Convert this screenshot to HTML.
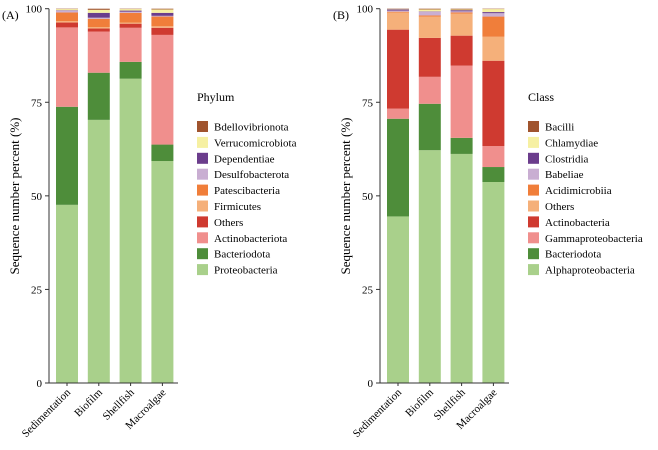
<!DOCTYPE html>
<html><head><meta charset="utf-8"><style>
body{margin:0;background:#fff}
svg{font-family:"Liberation Serif",serif}
</style></head><body>
<svg id="c" width="658" height="445"></svg>
<script>
const categories=["Sedimentation","Biofilm","Shellfish","Macroalgae"];
const phylumNames=["Proteobacteria","Bacteriodota","Actinobacteriota","Others","Firmicutes","Patescibacteria","Desulfobacterota","Dependentiae","Verrucomicrobiota","Bdellovibrionota"];
const phylumValues=[
 [47.6,70.3,81.3,59.3],
 [26.2,12.6,4.5,4.4],
 [21.2,11.0,9.1,29.3],
 [1.3,0.8,1.1,1.9],
 [0.4,0.4,0.3,0.4],
 [2.3,2.2,2.6,2.6],
 [0.5,0.3,0.3,0.2],
 [0.1,1.3,0.3,0.8],
 [0.3,0.8,0.4,0.9],
 [0.1,0.3,0.1,0.2]];
const classNames=["Alphaproteobacteria","Bacteriodota","Gammaproteobacteria","Actinobacteria","Others","Acidimicrobiia","Babeliae","Clostridia","Chlamydiae","Bacilli"];
const classValues=[
 [44.5,62.2,61.2,53.7],
 [26.1,12.4,4.3,4.0],
 [2.7,7.2,19.3,5.6],
 [21.1,10.4,8.0,22.8],
 [4.6,5.7,5.9,6.4],
 [0.2,0.3,0.3,5.4],
 [0.3,1.0,0.3,0.9],
 [0.3,0.1,0.3,0.3],
 [0.1,0.5,0.2,0.8],
 [0.1,0.2,0.2,0.1]];
const yTicks=[0,25,50,75,100];
const colors=["#a9d08b","#4e8d3a","#f08f8d","#cf3a30","#f5b07a","#f07e3a","#c9aed2","#6b3d8c","#f6f0a2","#a0542e"];
const NS="http://www.w3.org/2000/svg";
const svg=document.getElementById("c");
function el(t,a,p){const e=document.createElementNS(NS,t);for(const k in a)e.setAttribute(k,a[k]);(p||svg).appendChild(e);return e;}
const y0=383,yTop=8.7;
function yS(v){return y0-(y0-yTop)*v/100;}
function panel(ax,names,values,legX,legTitle,tag,tagX,title){
 const g=el("g",{});
 
 
 const xS=i=>ax+18+i*31.8;
 // bars
 categories.forEach((c,i)=>{let cum=0;
  names.forEach((n,s)=>{const v=values[s][i];
   const r=el("rect",{x:xS(i)-11,y:yS(cum+v),width:22,height:yS(cum)-yS(cum+v),fill:colors[s]},g);
   
   
   cum+=v;});
  el("line",{x1:xS(i),x2:xS(i),y1:y0,y2:y0+3,stroke:"#333"},g);
  const t=el("text",{x:0,y:0,"font-size":11,"text-anchor":"end",transform:`translate(${xS(i)+4},${y0+10}) rotate(-45)`},g);
  t.textContent=c;
  
  
 });
 el("line",{x1:ax,x2:ax,y1:yTop,y2:y0,stroke:"#333"},g);
 el("line",{x1:ax,x2:ax+129,y1:y0,y2:y0,stroke:"#333"},g);
 yTicks.forEach(v=>{el("line",{x1:ax-4,x2:ax,y1:yS(v),y2:yS(v),stroke:"#333"},g);
  const t=el("text",{x:ax-7,y:yS(v)+4,"font-size":11,"text-anchor":"end"},g);t.textContent=v;
  
  });
 const yt=el("text",{x:0,y:0,"font-size":13,"text-anchor":"middle",transform:`translate(${ax-30},196) rotate(-90)`},g);
 yt.textContent="Sequence number percent (%)";
 
 
 const tg=el("text",{x:tagX,y:19,"font-size":12},g);tg.textContent=tag;
 
 
 const lt=el("text",{x:legX,y:101,"font-size":12},g);lt.textContent=legTitle;
 
 
 for(let s=names.length-1,k=0;s>=0;s--,k++){const yy=121+k*15.9;
  el("rect",{x:legX,y:yy,width:11,height:11,fill:colors[s]},g);
  const t=el("text",{x:legX+17,y:yy+9.5,"font-size":11},g);t.textContent=names[s];
  
  }
}
panel(49,phylumNames,phylumValues,197,"Phylum","(A)",2,"phylum");
panel(380,classNames,classValues,528,"Class","(B)",333,"class");
</script>
</body></html>
